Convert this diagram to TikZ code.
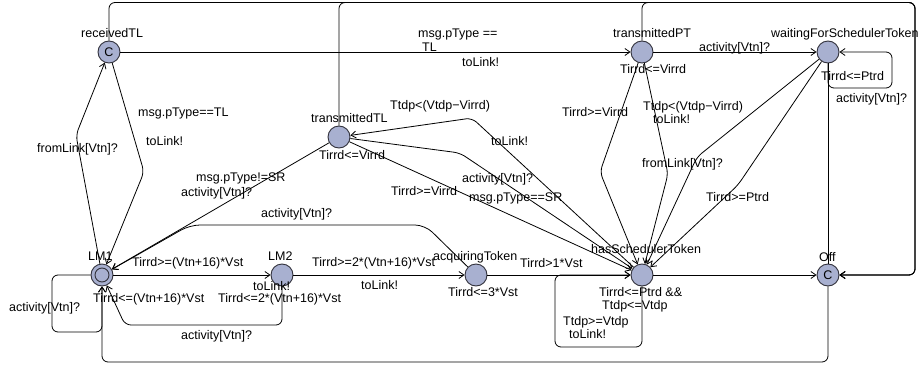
\documentclass[tikz,border=0pt]{standalone}
\usepackage{fontspec}
\setmainfont{Liberation Sans}
\usetikzlibrary{arrows.meta}
\definecolor{locfill}{RGB}{168,176,208}
\definecolor{locline}{RGB}{50,50,60}
\newcommand\lfnt{\fontsize{12.5}{13}\selectfont}
\tikzset{
  loc/.style={circle, draw=locline, fill=locfill, minimum size=22pt, inner sep=0pt, line width=0.9pt, font=\lfnt},
  edge/.style={draw=black, line width=0.8pt, -{Straight Barb[length=5pt,width=7pt]}},
  plainedge/.style={draw=black, line width=0.8pt},
  rc/.style={rounded corners=6pt},
  lbl/.style={anchor=base west, inner sep=0pt, font=\lfnt, text=black},
}
\begin{document}
\begin{tikzpicture}[x=1pt,y=-1pt]
\useasboundingbox (0,0) rectangle (919,367);
\fill[white] (0,0) rectangle (919,367);
% locations
\node[loc] (rTL) at (109,52) {C};
\node[loc] (tTL) at (339,137) {};
\node[loc] (tPT) at (642,52) {};
\node[loc] (wFST) at (828,52) {};
\node[loc] (LM1) at (102,275) {};
\node[loc] (LM2) at (282,275) {};
\node[loc] (aT) at (476,275) {};
\node[loc] (hST) at (642,275) {};
\node[loc] (Off) at (828,275) {C};
\draw[locline, line width=0.9pt] (LM1) circle (7pt);
% edges
\draw[edge] (rTL) -- (tPT);
\draw[edge,rc] (rTL) -- (109,2.5) -- (915,2.5) -- (915,275) -- (Off);
\draw[edge,rc] (tTL) -- (339,2.5) -- (915,2.5) -- (915,275) -- (Off);
\draw[edge,rc] (tPT) -- (642,2.5) -- (915,2.5) -- (915,275) -- (Off);
\draw[edge,rc] (LM1) -- (76,135) -- (rTL);
\draw[edge,rc] (rTL) -- (144,172) -- (LM1);
\draw[edge] (tTL) -- (LM1);
\draw[edge,rounded corners=10pt] (aT) -- (425,225) -- (190,225) -- (LM1);
\draw[edge,rc] (hST) -- (472,118) -- (tTL);
\draw[edge,rc] (tTL) -- (460,153) -- (hST);
\draw[edge] (tTL) -- (hST);
\draw[edge,rc] (tPT) -- (600,172) -- (hST);
\draw[edge,rc] (tPT) -- (668,174) -- (hST);
\draw[edge,rc] (wFST) -- (697,157) -- (hST);
\draw[edge,rc] (wFST) -- (738,185) -- (hST);
\draw[edge] (tPT) -- (wFST);
\draw[edge,rc] (wFST) -- (828,88) -- (892,88) -- (892,52) -- (wFST);
\draw[plainedge] (wFST) -- (Off);
\draw[edge,rc] (LM1) -- (52,275) -- (52,332) -- (102,332) -- (LM1);
\draw[edge] (LM1) -- (LM2);
\draw[edge,rc] (LM2) -- (282,325) -- (125,325) -- (LM1);
\draw[edge] (LM2) -- (aT);
\draw[edge] (aT) -- (hST);
\draw[edge,rc] (hST) -- (642,347) -- (555,347) -- (555,275) -- (hST);
\draw[edge] (hST) -- (Off);
\draw[edge,rc] (Off) -- (828,362) -- (102,362) -- (LM1);
% location names
\node[lbl] (nrTL) at (81,37.5) {receivedTL};
\node[lbl] (ntTL) at (311,122.5) {transmittedTL};
\node[lbl] (ntPT) at (613,37.5) {transmittedPT};
\node[lbl] (nwFST) at (771,37.5) {waitingForSchedulerToken};
\node[lbl] (nLM1) at (88,260.5) {LM1};
\node[lbl] (nLM2) at (268,260.5) {LM2};
\node[lbl] (naT) at (433,260.5) {acquiringToken};
\node[lbl] (nhST) at (591,253.5) {hasSchedulerToken};
\node[lbl] (nOff) at (819,261.5) {Off};
% invariants
\node[lbl] (itTL) at (319,159.5) {Tirrd<=Virrd};
\node[lbl] (itPT) at (620,73.5) {Tirrd<=Virrd};
\node[lbl] (iwFST) at (821,80.5) {Tirrd<=Ptrd};
\node[lbl] (iLM1) at (93,302.5) {Tirrd<=(Vtn+16)*Vst};
\node[lbl] (iLM2) at (218,302.5) {Tirrd<=2*(Vtn+16)*Vst};
\node[lbl] (iaT) at (448,296.5) {Tirrd<=3*Vst};
\node[lbl] (ihST1) at (599,296.5) {Tirrd<=Ptrd \&\&};
\node[lbl] (ihST2) at (602,309.5) {Ttdp<=Vtdp};
% edge labels
\node[lbl] (a1) at (418,37.5) {msg.pType ==};
\node[lbl] (a2) at (422,51.5) {TL};
\node[lbl] (a3) at (462,66.5) {toLink!};
\node[lbl] (b1) at (37,152.5) {fromLink[Vtn]?};
\node[lbl] (c1) at (138,116.5) {msg.pType==TL};
\node[lbl] (c2) at (146,145.5) {toLink!};
\node[lbl] (d1) at (196,181.5) {msg.pType!=SR};
\node[lbl] (d2) at (181,196.5) {activity[Vtn]?};
\node[lbl] (e1) at (261,217.5) {activity[Vtn]?};
\node[lbl] (f1) at (390,109.5) {Ttdp<(Vtdp−Virrd)};
\node[lbl] (f2) at (491,145.5) {toLink!};
\node[lbl] (g1) at (462,182.5) {activity[Vtn]?};
\node[lbl] (g2) at (469,201.5) {msg.pType==SR};
\node[lbl] (h1) at (391,195.5) {Tirrd>=Virrd};
\node[lbl] (i1) at (562,116.5) {Tirrd>=Virrd};
\node[lbl] (j1) at (643,110.5) {Ttdp<(Vtdp−Virrd)};
\node[lbl] (j2) at (653,123.5) {toLink!};
\node[lbl] (k1) at (642,167.5) {fromLink[Vtn]?};
\node[lbl] (m1) at (706,201.5) {Tirrd>=Ptrd};
\node[lbl] (n1) at (699,51.5) {activity[Vtn]?};
\node[lbl] (o1) at (836,102.5) {activity[Vtn]?};
\node[lbl] (p1) at (9,311.5) {activity[Vtn]?};
\node[lbl] (q1) at (132,266.5) {Tirrd>=(Vtn+16)*Vst};
\node[lbl] (q2) at (253,290.5) {toLink!};
\node[lbl] (r1) at (181,339.5) {activity[Vtn]?};
\node[lbl] (s1) at (312,266.5) {Tirrd>=2*(Vtn+16)*Vst};
\node[lbl] (s2) at (361,289.5) {toLink!};
\node[lbl] (t1) at (520,267.5) {Tirrd>1*Vst};
\node[lbl] (u1) at (563,325.5) {Ttdp>=Vtdp};
\node[lbl] (u2) at (569,338.5) {toLink!};
\end{tikzpicture}
\end{document}
